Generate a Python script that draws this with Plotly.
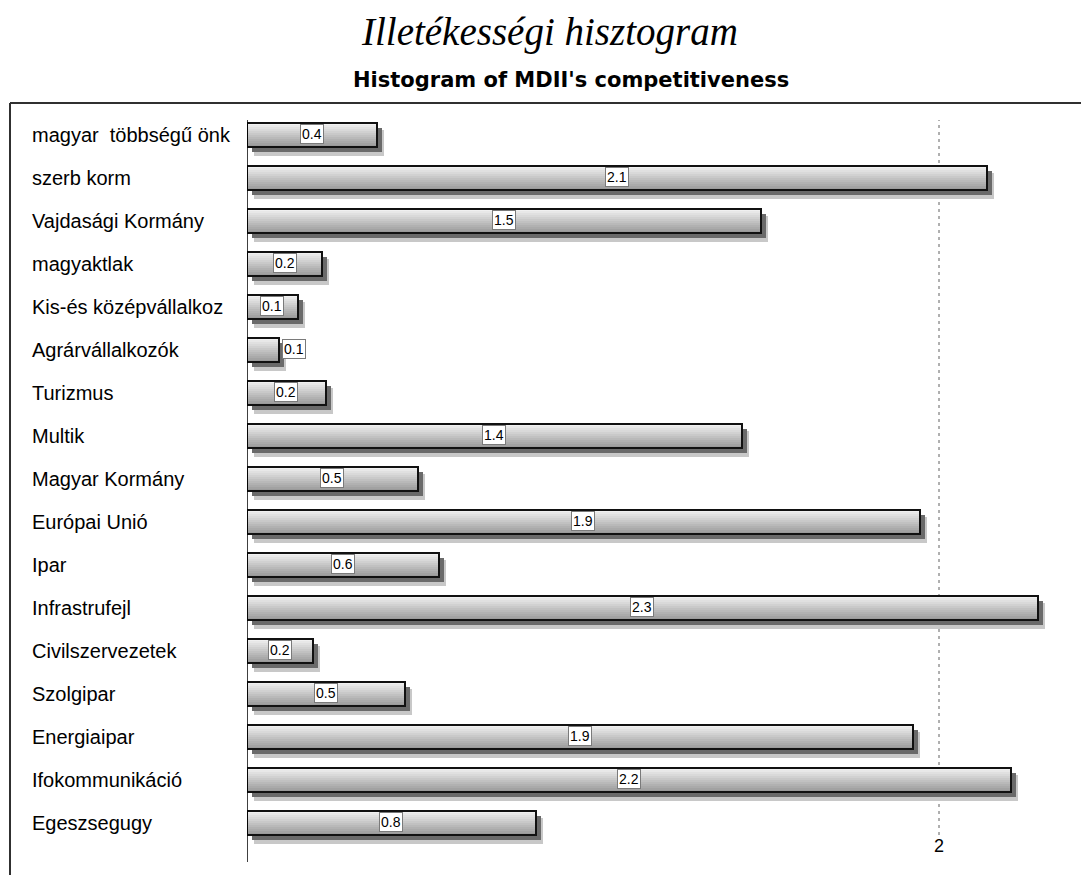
import plotly.graph_objects as go

CATEGORIES = [
    "magyar  többségű önk", "szerb korm", "Vajdasági Kormány", "magyaktlak",
    "Kis-és középvállalkoz", "Agrárvállalkozók", "Turizmus", "Multik",
    "Magyar Kormány", "Európai Unió", "Ipar", "Infrastrufejl",
    "Civilszervezetek", "Szolgipar", "Energiaipar", "Ifokommunikáció", "Egeszsegugy",
]
VALUES = [0.376, 2.14, 1.486, 0.217, 0.147, 0.092, 0.228, 1.43,
          0.494, 1.945, 0.556, 2.286, 0.19, 0.457, 1.925, 2.208, 0.835]
TICKS = [2]
TICK_LABELS = ["2"]
TITLE = "Illetékességi hisztogram"
SUBTITLE = "Histogram of MDII's competitiveness"

# page has 8px body margin; figure drawn at (8, 8)
OFF = 8
W, H = 1089 - OFF, 875 - OFF
AX0, AY0, AY1 = 247, 120, 862          # plot area in page pixels
L, T, B, R = AX0 - OFF, AY0 - OFF, 875 - AY1, 0
PW, PH = W - L - R, H - T - B
PX_PER_UNIT = 346.0
ROW = 43.0
XMAX = PW / PX_PER_UNIT
BAR_W = 24 / ROW


def px(xp):
    return (xp - AX0) / PW


def py(yp):
    return (AY1 - yp) / PH


ys = list(range(len(CATEGORIES)))
fig = go.Figure()

# shadows
for dx, dy, col, extra in [(7, 7, "#c8c8c8", 2), (5, 5, "#6a6a6a", 0)]:
    fig.add_trace(go.Bar(
        orientation="h", y=ys, x=VALUES, base=dx / PX_PER_UNIT,
        width=BAR_W + extra / ROW, offset=-BAR_W / 2 + dy / ROW,
        marker=dict(color=col, line=dict(width=0)), hoverinfo="skip", showlegend=False,
    ))

# gradient stripes
N = 12
top = (0xF0, 0xF0, 0xF0)
bot = (0x9a, 0x9a, 0x9a)
sw = BAR_W / N
for k in range(N):
    t = k / (N - 1)
    c = tuple(int(round(top[j] + (bot[j] - top[j]) * t)) for j in range(3))
    fig.add_trace(go.Bar(
        orientation="h", y=ys, x=VALUES, base=0,
        width=sw * 1.15, offset=-BAR_W / 2 + k * sw,
        marker=dict(color="rgb(%d,%d,%d)" % c, line=dict(width=0)),
        hoverinfo="skip", showlegend=False,
    ))

# outlines
fig.add_trace(go.Bar(
    orientation="h", y=ys, x=VALUES, base=0, width=BAR_W,
    marker=dict(color="rgba(0,0,0,0)", line=dict(width=2, color="#111111")),
    hovertemplate="%{y}: %{x:.2f}<extra></extra>", showlegend=False,
))

annotations = []
# value labels
for i, v in enumerate(VALUES):
    inside = v * PX_PER_UNIT > 40
    annotations.append(dict(
        x=v / 2 if inside else v + 3 / PX_PER_UNIT, y=i - 0.03, xref="x", yref="y",
        xanchor="center" if inside else "left", yanchor="middle",
        text="%.1f" % v, showarrow=False,
        font=dict(family="Liberation Sans", size=14, color="#000000"),
        bgcolor="#ffffff", bordercolor="#7a7a7a", borderwidth=1, borderpad=1,
    ))

# category labels
for i, c in enumerate(CATEGORIES):
    annotations.append(dict(
        x=px(30), y=i, xref="paper", yref="y", xanchor="left", yanchor="middle",
        text=c, showarrow=False, font=dict(family="Liberation Sans", size=20, color="#000000"),
    ))

# tick label
for tv, tl in zip(TICKS, TICK_LABELS):
    annotations.append(dict(
        x=tv, y=py(846), xref="x", yref="paper", xanchor="center", yanchor="middle",
        text=tl, showarrow=False, font=dict(family="Liberation Sans", size=18, color="#000000"),
    ))

# titles
annotations.append(dict(
    x=px(549), y=py(32), xref="paper", yref="paper",
    xanchor="center", yanchor="middle", text="<i>%s</i>" % TITLE, showarrow=False,
    font=dict(family="Liberation Serif", size=39, color="#000000"),
))
annotations.append(dict(
    x=px(571), y=py(80), xref="paper", yref="paper",
    xanchor="center", yanchor="middle", text="<b>%s</b>" % SUBTITLE, showarrow=False,
    font=dict(family="DejaVu Sans", size=21, color="#000000"),
))

shapes = []
for tv in TICKS:
    shapes.append(dict(type="line", xref="x", yref="paper", x0=tv, x1=tv,
                       y0=py(835), y1=1,
                       line=dict(color="#606060", width=1, dash="3px,4px"), layer="below"))
# frame
shapes.append(dict(type="line", xref="paper", yref="paper", x0=px(10), x1=px(1095), y0=py(103), y1=py(103),
                   line=dict(color="#303030", width=2)))
shapes.append(dict(type="line", xref="paper", yref="paper", x0=px(10), x1=px(10), y0=py(103), y1=py(880),
                   line=dict(color="#303030", width=2)))
# y axis line
shapes.append(dict(type="line", xref="x", yref="paper", x0=0, x1=0, y0=0, y1=1,
                   line=dict(color="#000000", width=1.5)))

fig.update_layout(
    width=W, height=H, margin=dict(l=L, r=R, t=T, b=B),
    paper_bgcolor="#ffffff", plot_bgcolor="#ffffff",
    barmode="overlay", bargap=0,
    xaxis=dict(range=[0, XMAX], showgrid=False, zeroline=False, showticklabels=False,
               showline=False, ticks=""),
    yaxis=dict(range=[len(CATEGORIES) - 1 + 39 / ROW, -15 / ROW], showgrid=False,
               zeroline=False, showticklabels=False, showline=False, ticks=""),
    annotations=annotations, shapes=shapes,
)
fig.write_html("out.html")
